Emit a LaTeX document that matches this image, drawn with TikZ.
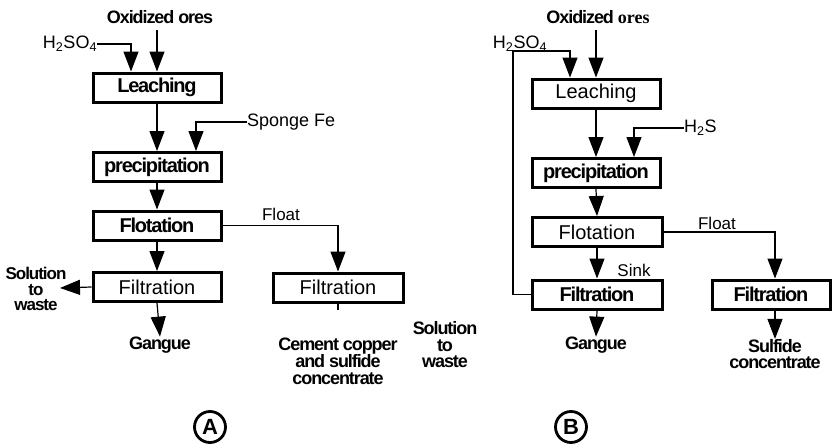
\documentclass[tikz,border=0pt]{standalone}
\usepackage{fontspec}
\setmainfont{Liberation Sans}
\newfontfamily\condf[LetterSpace=-6]{Liberation Sans}
\newfontfamily\serifb{Liberation Serif}
\usetikzlibrary{arrows.meta}
\tikzset{
  proc/.style={draw, line width=3pt, minimum width=128pt, minimum height=29pt,
    inner sep=0pt, font=\fontsize{20}{22}\selectfont},
  procb/.style={proc, font=\condf\bfseries\fontsize{20}{22}\selectfont},
  boldtxt/.style={font=\condf\bfseries\fontsize{18}{16.5}\selectfont, align=center, inner sep=0pt},
  lbl/.style={font=\fontsize{18}{20}\selectfont, inner sep=0pt},
  pipe/.style={line width=1.2pt},
  flowtip/.tip={Triangle[length=20pt,width=15pt]},
  flow/.style={pipe, -flowtip},
  tag/.style={draw, circle, line width=2.8pt, minimum size=31pt, inner sep=0pt,
    font=\condf\bfseries\fontsize{22}{24}\selectfont}
}
\begin{document}
\begin{tikzpicture}[x=1pt,y=-1pt]
\useasboundingbox (0,0) rectangle (833,447);

% ---------------- Flowsheet A ----------------
\node[boldtxt] (oreA) at (160,17) {Oxidized ores};
\node[lbl] (h2a) at (70,44) {H\textsubscript{2}SO\textsubscript{4}};
\node[procb] (leachA) at (157,87.5) {Leaching};
\node[procb] (precA) at (157,167) {precipitation};
\node[lbl, anchor=west] (sfe) at (247,122) {Sponge Fe};
\node[procb] (flotA) at (157,225.5) {Flotation};
\node[lbl, font=\fontsize{17}{19}\selectfont] (floatA) at (281,214) {Float};
\node[proc] (filtA) at (157,287) {Filtration};
\node[proc, minimum width=130pt] (filtB1) at (338,287.5) {Filtration};
\node[boldtxt, font=\condf\bfseries\fontsize{17}{15.5}\selectfont] (solA) at (36,289) {Solution\\to\\waste};
\node[boldtxt] (gangA) at (160,345) {Gangue};
\node[boldtxt] (cement) at (338,361) {Cement copper\\and sulfide\\concentrate};
\node[boldtxt] (solA2) at (445,345) {Solution\\to\\waste};
\node[tag] (tagA) at (210,427) {A};

\coordinate (wasteA) at (60,288);
\coordinate (tickA) at (338,310);

\draw[flow] ([yshift=-6pt]oreA.south -| leachA.north) -- (leachA.north);
\draw[flow] (h2a.east) -| ([xshift=-26pt]leachA.north);
\draw[flow] (leachA.south) -- (precA.north);
\draw[flow] (sfe.west) -| ([xshift=39pt]precA.north);
\draw[flow] (precA.south) -- (flotA.north);
\draw[flow] (flotA.east) -| (filtB1.north);
\draw[flow] (flotA.south) -- (filtA.north);
\draw[flow] (filtA.west) -- (wasteA);
\draw[flow] (filtA.south) -- (gangA.north);
\draw[pipe] (filtB1.south) -- (tickA);

% ---------------- Flowsheet B ----------------
\node[boldtxt] (oreB) at (598,17) {Oxidized {\serifb\bfseries ores}};
\node[lbl] (h2b) at (520,44) {H\textsubscript{2}SO\textsubscript{4}};
\node[proc] (leachB) at (596,93.5) {Leaching};
\node[lbl, anchor=west] (h2s) at (684,128) {H\textsubscript{2}S};
\node[procb] (precB) at (596,173) {precipitation};
\node[proc, minimum width=130pt] (flotB) at (597,232) {Flotation};
\node[lbl, font=\fontsize{17}{19}\selectfont] (floatB) at (717,223) {Float};
\node[lbl, font=\fontsize{17}{19}\selectfont] (sink) at (634,270) {Sink};
\node[procb, minimum width=130pt] (filtB) at (597,294.5) {Filtration};
\node[procb, minimum width=118pt] (filtB2) at (771,294.5) {Filtration};
\node[boldtxt] (gangB) at (596,345) {Gangue};
\node[boldtxt] (sulf) at (775,354) {Sulfide\\concentrate};
\node[tag] (tagB) at (571,427) {B};

\coordinate (recyc) at (513,51);

\draw[flow] ([yshift=-6pt]oreB.south -| leachB.north) -- (leachB.north);
\draw[flow] (filtB.west) -| (recyc) -| ([xshift=-26pt]leachB.north);
\draw[flow] (leachB.south) -- (precB.north);
\draw[flow] (h2s.west) -| ([xshift=38pt]precB.north);
\draw[flow] (precB.south) -- (flotB.north);
\draw[flow] (flotB.east) -| ([xshift=4pt]filtB2.north);
\draw[flow] (flotB.south) -- (filtB.north);
\draw[flow] (filtB.south) -- (gangB.north);
\draw[flow] ([xshift=4pt]filtB2.south) -- (sulf.north);
\end{tikzpicture}
\end{document}
